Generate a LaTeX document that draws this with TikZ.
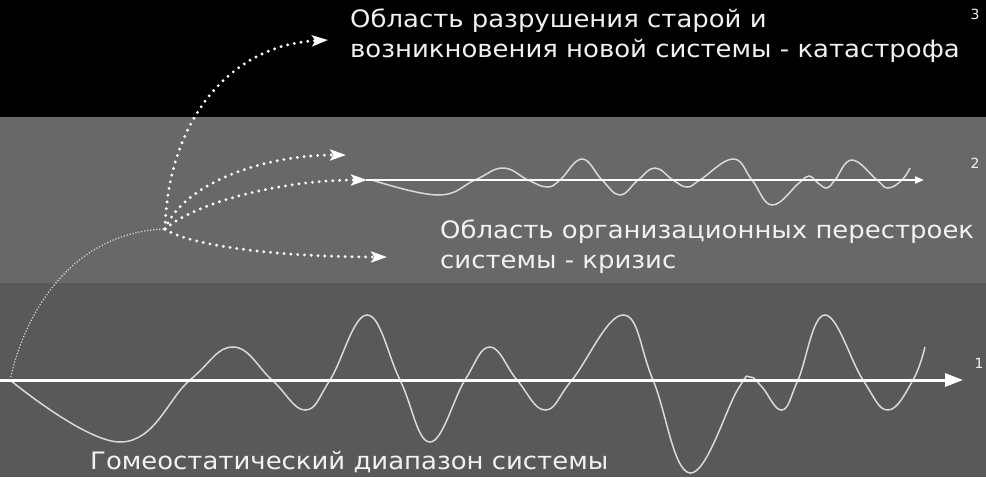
\documentclass[tikz,border=0pt]{standalone}
\usepackage{fontspec}
\setmainfont{DejaVu Sans}
\usetikzlibrary{arrows.meta}
\definecolor{bandtop}{HTML}{000000}
\definecolor{bandmid}{HTML}{686868}
\definecolor{bandlow}{HTML}{595959}
\definecolor{wavecol}{HTML}{DADADA}
\definecolor{txt}{HTML}{F2F2F2}
\newcommand{\widetext}[1]{\scalebox{1.08}[1]{#1}}
\begin{document}
\begin{tikzpicture}[x=1pt,y=-1pt,
  wave/.style={draw=wavecol, line width=1.5pt},
  axisline/.style={draw=white, line width=3pt, -{Triangle[length=18pt,width=13pt]}},
  axistwo/.style={draw=white, line width=2pt, -{Triangle[length=9pt,width=7pt]}},
  dotarrow/.style={draw=white, line width=3.2pt, line cap=round, dash pattern=on 0pt off 6.8pt, -{Stealth[length=16pt,width=11pt,inset=3.5pt]}},
  thindot/.style={draw=wavecol, line width=1.2pt, dash pattern=on 1.2pt off 1.8pt},
  lbl/.style={text=txt, anchor=base west, inner sep=0pt, font=\fontsize{24}{28}\selectfont},
  num/.style={text=txt, anchor=center, inner sep=0pt, font=\fontsize{14}{16}\selectfont}]
\useasboundingbox (0,0) rectangle (986,477);
\fill[bandtop] (0,0) rectangle (986,117);
\fill[bandmid] (0,117) rectangle (986,283);
\fill[bandlow] (0,283) rectangle (986,477);

% waves
\draw[wave] plot[smooth, tension=0.7] coordinates {(10,380) (120,442) (190,380) (233,347) (272,380) (305,410) (330,380) (367,315) (400,380) (430,442) (465,380) (490,347) (517,380) (545,410) (572,380) (623,315) (653,380) (690,473) (738,389) (750,377) (762,387) (782,410) (798,380) (825,315) (863,380) (888,410) (913,380) (925,347)};
\draw[wave] plot[smooth, tension=0.7] coordinates {(372,180) (438,195) (475,180) (503,168) (528,180) (547,187) (560,180) (582,159) (602,180) (620,195) (638,180) (655,168) (673,180) (687,187) (700,180) (733,159) (752,180) (772,205) (799,183) (809,176) (818,183) (827,188) (835,180) (852,160) (877,180) (888,188) (902,180) (910,168)};

% axes
\coordinate (a1s) at (0,380);
\coordinate (a1e) at (963,380);
\coordinate (a2s) at (366,180);
\coordinate (a2e) at (924,180);
\draw[axisline] (a1s) -- (a1e);
\draw[axistwo] (a2s) -- (a2e);

% dotted branches
\coordinate (O) at (10,380);
\coordinate (J) at (165,229);
\coordinate (T1) at (328,40);
\coordinate (T2) at (346,155);
\coordinate (T3) at (367,180);
\coordinate (T4) at (387,257);
\draw[thindot] (O) .. controls (28,300) and (80,232) .. (J);
\draw[dotarrow] (J) .. controls (168,120) and (230,45) .. (T1);
\draw[dotarrow] (J) .. controls (183,185) and (260,155) .. (T2);
\draw[dotarrow] (J) .. controls (195,203) and (280,180) .. (T3);
\draw[dotarrow] (J) .. controls (190,246) and (280,257) .. (T4);

% texts
\node[lbl] (t3a) at (350,27) {\widetext{Область разрушения старой и}};
\node[lbl] (t3b) at (350,57) {\widetext{возникновения новой системы - катастрофа}};
\node[lbl] (t2a) at (440,238) {\widetext{Область организационных перестроек}};
\node[lbl] (t2b) at (440,268) {\widetext{системы - кризис}};
\node[lbl] (t1a) at (90,469) {\widetext{Гомеостатический диапазон системы}};
\node[num] (n3) at (975,14) {3};
\node[num] (n2) at (975,163) {2};
\node[num] (n1) at (979,363) {1};
\end{tikzpicture}
\end{document}
